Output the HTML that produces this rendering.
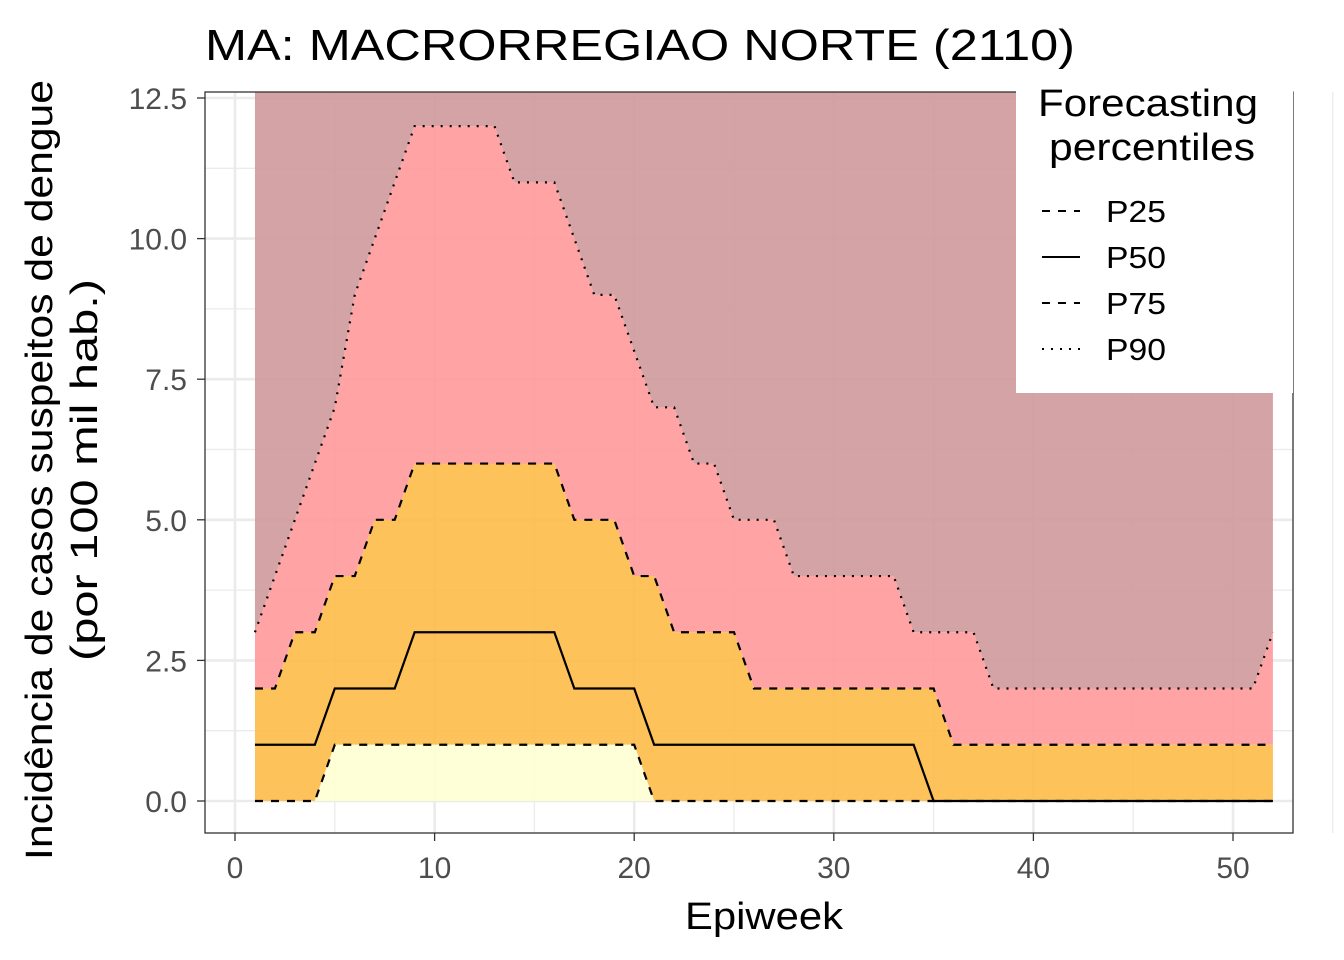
<!DOCTYPE html>
<html><head><meta charset="utf-8"><style>
html,body{margin:0;padding:0;background:#fff;}
svg{display:block;font-family:"Liberation Sans",sans-serif;}
</style></head><body>
<svg id="chart" width="1344" height="960">
<text x="205" y="60" font-size="44" textLength="870" lengthAdjust="spacingAndGlyphs">MA: MACRORREGIAO NORTE (2110)</text>
<g id="plot"></g>
<rect x="205" y="92" width="1088" height="741" fill="none" stroke="#333" stroke-width="1.3"/>
<g id="axes"></g>
<text x="764" y="929" font-size="38" text-anchor="middle" textLength="158" lengthAdjust="spacingAndGlyphs">Epiweek</text>
<text transform="translate(52,470) rotate(-90)" font-size="38" text-anchor="middle"><tspan x="0" dy="0" textLength="780" lengthAdjust="spacingAndGlyphs">Incidência de casos suspeitos de dengue</tspan><tspan x="0" dy="45" textLength="382" lengthAdjust="spacingAndGlyphs">(por 100 mil hab.)</tspan></text>
<g>
<rect x="1016" y="85" width="277" height="308" fill="#fff"/>
<text font-size="38" text-anchor="middle"><tspan x="1148" y="116" textLength="220" lengthAdjust="spacingAndGlyphs">Forecasting</tspan><tspan x="1152" y="160" textLength="206" lengthAdjust="spacingAndGlyphs">percentiles</tspan></text>
<line x1="1042" y1="211" x2="1080" y2="211" stroke="#000" stroke-width="2" stroke-dasharray="8,8"/>
<text x="1106" y="222" font-size="31" textLength="60" lengthAdjust="spacingAndGlyphs">P25</text>
<line x1="1042" y1="257" x2="1080" y2="257" stroke="#000" stroke-width="2"/>
<text x="1106" y="268" font-size="31" textLength="60" lengthAdjust="spacingAndGlyphs">P50</text>
<line x1="1042" y1="303" x2="1080" y2="303" stroke="#000" stroke-width="2" stroke-dasharray="8,8"/>
<text x="1106" y="314" font-size="31" textLength="60" lengthAdjust="spacingAndGlyphs">P75</text>
<line x1="1042" y1="349" x2="1080" y2="349" stroke="#000" stroke-width="2" stroke-dasharray="2,7"/>
<text x="1106" y="360" font-size="31" textLength="60" lengthAdjust="spacingAndGlyphs">P90</text>
</g>
</svg>
<script>
const weeks = Array.from({length:52},(_, i)=>i+1);
const p25 = [0,0,0,0,1,1,1,1,1,1,1,1,1,1,1,1,1,1,1,1,0,0,0,0,0,0,0,0,0,0,0,0,0,0,0,0,0,0,0,0,0,0,0,0,0,0,0,0,0,0,0,0];
const p50 = [1,1,1,1,2,2,2,2,3,3,3,3,3,3,3,3,2,2,2,2,1,1,1,1,1,1,1,1,1,1,1,1,1,1,0,0,0,0,0,0,0,0,0,0,0,0,0,0,0,0,0,0];
const p75 = [2,2,3,3,4,4,5,5,6,6,6,6,6,6,6,6,5,5,5,4,4,3,3,3,3,2,2,2,2,2,2,2,2,2,2,1,1,1,1,1,1,1,1,1,1,1,1,1,1,1,1,1];
const p90 = [3,4,5,6,7,9,10,11,12,12,12,12,12,11,11,11,10,9,9,8,7,7,6,6,5,5,5,4,4,4,4,4,4,3,3,3,3,2,2,2,2,2,2,2,2,2,2,2,2,2,2,3];
const xTicks = [0,10,20,30,40,50];
const yTicks = ["0.0","2.5","5.0","7.5","10.0","12.5"];
const NS="http://www.w3.org/2000/svg";
const X = v => 235 + v*19.96;
const Y = v => 801 - v*56.24;
const plot=document.getElementById('plot'), axes=document.getElementById('axes');
function mk(tag,attrs,parent){const e=document.createElementNS(NS,tag);for(const k in attrs)e.setAttribute(k,attrs[k]);parent.appendChild(e);return e;}
for(let v=0;v<=55;v+=5){const g=mk('line',{x1:X(v),x2:X(v),y1:92,y2:833,stroke:'#ebebeb','stroke-width':v%10===0?2.6:1.3},plot);

}
for(let v=0;v<=12.5;v+=1.25){const g=mk('line',{x1:205,x2:1293,y1:Y(v),y2:Y(v),stroke:'#ebebeb','stroke-width':(v/2.5)%1===0?2.6:1.3},plot);

}
const pts=a=>a.map((v,i)=>X(weeks[i])+','+Y(v));
const x0=X(weeks[0]), x1=X(weeks[weeks.length-1]);
function band(lo,hi,color,name){
  const top = hi? pts(hi) : [x0+',92',x1+',92'];
  const bot = lo? pts(lo).reverse() : [x1+','+Y(0),x0+','+Y(0)];
  const p=mk('polygon',{points:top.concat(bot).join(' '),fill:color,'fill-opacity':0.88},plot);
  
  
}
band(p90,null,'#ce9698','band-above-p90');
band(p75,p90,'#ff9699','band-p75-p90');
band(p25,p75,'#fdba43','band-p25-p75');
band(null,p25,'#ffffd2','band-below-p25');
function line(a,dash,name){const l=mk('polyline',{points:pts(a).join(' '),fill:'none',stroke:'#000','stroke-width':2.2,'stroke-dasharray':dash},plot);

}
line(p25,'8,8','line-p25');line(p50,'none','line-p50');line(p75,'8,8','line-p75');line(p90,'2,7','line-p90');
xTicks.forEach(v=>{const t=mk('line',{x1:X(v),x2:X(v),y1:833,y2:841,stroke:'#333','stroke-width':1.3},axes);


const l=mk('text',{x:X(v),y:878,'font-size':30,fill:'#4d4d4d','text-anchor':'middle'},axes);l.textContent=v;

});
yTicks.forEach(s=>{const v=parseFloat(s);const t=mk('line',{x1:197,x2:205,y1:Y(v),y2:Y(v),stroke:'#333','stroke-width':1.3},axes);


const l=mk('text',{x:187,y:Y(v)+11,'font-size':30,fill:'#4d4d4d','text-anchor':'end'},axes);l.textContent=s;

});
</script>
</body></html>
